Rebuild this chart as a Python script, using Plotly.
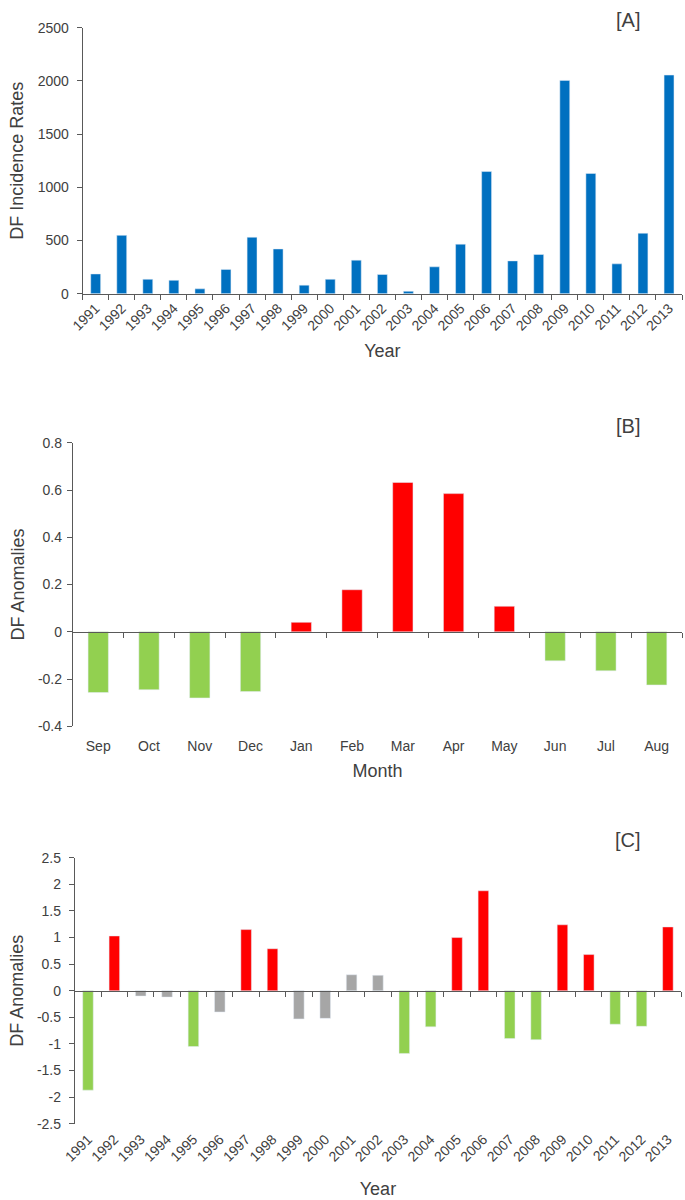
import plotly.graph_objects as go

# ---------------- data ----------------
years = [str(y) for y in range(1991, 2014)]
incidence = [185, 548, 135, 125, 45, 228, 530, 420, 80, 135, 315, 180, 22,
             252, 465, 1148, 308, 368, 2005, 1130, 280, 568, 2055]

months = ["Sep", "Oct", "Nov", "Dec", "Jan", "Feb", "Mar", "Apr", "May",
          "Jun", "Jul", "Aug"]
month_anom = [-0.257, -0.245, -0.28, -0.253, 0.04, 0.178, 0.632, 0.585,
              0.108, -0.123, -0.165, -0.225]

year_anom = [-1.87, 1.03, -0.10, -0.12, -1.05, -0.40, 1.15, 0.79, -0.53,
             -0.52, 0.30, 0.29, -1.18, -0.68, 1.00, 1.88, -0.90, -0.92,
             1.24, 0.68, -0.63, -0.67, 1.20]
year_class = ["low", "high", "normal", "normal", "low", "normal", "high",
              "high", "normal", "normal", "normal", "normal", "low", "low",
              "high", "high", "low", "low", "high", "high", "low", "low",
              "high"]

b_ticks = [0.8, 0.6, 0.4, 0.2, 0, -0.2, -0.4]
b_ticktext = ["0.8", "0.6", "0.4", "0.2", "0", "-0.2", "-0.4"]
c_ticks = [2.5, 2, 1.5, 1, 0.5, 0, -0.5, -1, -1.5, -2, -2.5]
c_ticktext = ["2.5", "2", "1.5", "1", "0.5", "0", "-0.5", "-1", "-1.5",
              "-2", "-2.5"]

# ---------------- styles ----------------
BLUE = "#0070C0"
RED = "#FF0000"
GREEN = "#92D050"
GRAY = "#A6A6A6"
class_color = {"high": RED, "low": GREEN, "normal": GRAY}
LINE = "#595959"
TXT = "#404040"
FONT = "Liberation Sans"

fig = go.Figure()
fig.add_trace(go.Bar(x=years, y=incidence, marker_color=BLUE, width=0.38,
                     xaxis="x", yaxis="y", showlegend=False))
fig.add_trace(go.Bar(x=months, y=month_anom,
                     marker_color=[RED if v > 0 else GREEN for v in month_anom],
                     width=0.4, xaxis="x2", yaxis="y2", showlegend=False))
fig.add_trace(go.Bar(x=years, y=year_anom,
                     marker_color=[class_color[c] for c in year_class],
                     width=0.4, xaxis="x3", yaxis="y3", showlegend=False))

W, H = 685, 1200
domA_y = [1 - 289.5 / H, 1 - 20 / H]
domB_y = [1 - 728 / H, 1 - 440.7 / H]
domC_y = [1 - 1130.7 / H, 1 - 861.3 / H]
rngB = [-0.4, 0.8]
rngC = [-2.5, 2.5]
posB = domB_y[0] + (0 - rngB[0]) / (rngB[1] - rngB[0]) * (domB_y[1] - domB_y[0])
posC = domC_y[0] + (0 - rngC[0]) / (rngC[1] - rngC[0]) * (domC_y[1] - domC_y[0])

tickfont = dict(family=FONT, size=14, color=TXT)
titlefont = dict(family=FONT, size=18, color=TXT)

common_x = dict(type="category", showline=True, linecolor=LINE, linewidth=1,
                ticks="outside", ticklen=5, tickcolor=LINE, tickson="boundaries",
                showgrid=False, zeroline=False, tickfont=tickfont)
common_y = dict(showline=True, linecolor=LINE, linewidth=1, ticks="outside",
                ticklen=5, tickcolor=LINE, showgrid=False, zeroline=False,
                tickfont=tickfont)

fig.update_layout(
    width=W, height=H,
    margin=dict(l=0, r=0, t=0, b=0),
    paper_bgcolor="white", plot_bgcolor="white",
    font=dict(family=FONT, color=TXT),
    bargap=0.6,
    xaxis=dict(common_x, domain=[71 / W, 682 / W], anchor="y",
               range=[-0.5, len(years) - 0.5], tickangle=-45,
               title=dict(text="Year", font=titlefont, standoff=11)),
    yaxis=dict(common_y, domain=domA_y, anchor="x", range=[0, 2500],
               tickvals=[0, 500, 1000, 1500, 2000, 2500], ticklabelstandoff=5,
               title=dict(text="DF Incidence Rates", font=titlefont, standoff=9)),
    xaxis2=dict(common_x, domain=[61 / W, 682 / W], anchor="free", position=posB,
                range=[-0.5, len(months) - 0.5], tickangle=0,
                ticklabelstandoff=101,
                title=dict(text="Month", font=titlefont, standoff=11)),
    yaxis2=dict(common_y, domain=domB_y, anchor="x2", range=rngB,
                tickvals=b_ticks, ticktext=b_ticktext, ticklabelstandoff=2,
                title=dict(text="DF Anomalies", font=titlefont, standoff=8)),
    xaxis3=dict(common_x, domain=[63 / W, 681 / W], anchor="free", position=posC,
                range=[-0.5, len(years) - 0.5], tickangle=-45,
                ticklabelstandoff=134,
                title=dict(text="Year", font=titlefont, standoff=18)),
    yaxis3=dict(common_y, domain=domC_y, anchor="x3", range=rngC,
                tickvals=c_ticks, ticktext=c_ticktext, ticklabelstandoff=5,
                title=dict(text="DF Anomalies", font=titlefont, standoff=8)),
)

for label, yc in [("[A]", 12), ("[B]", 424), ("[C]", 843)]:
    fig.add_annotation(text=label, xref="paper", yref="paper",
                       x=627 / W, y=1 - yc / H, xanchor="center", yanchor="middle",
                       showarrow=False, font=dict(family=FONT, size=20, color=TXT))

fig.write_html("out.html",
               config={"displayModeBar": False},
               post_script="document.body.style.margin='0px';"
                           "document.body.style.overflow='hidden';")
